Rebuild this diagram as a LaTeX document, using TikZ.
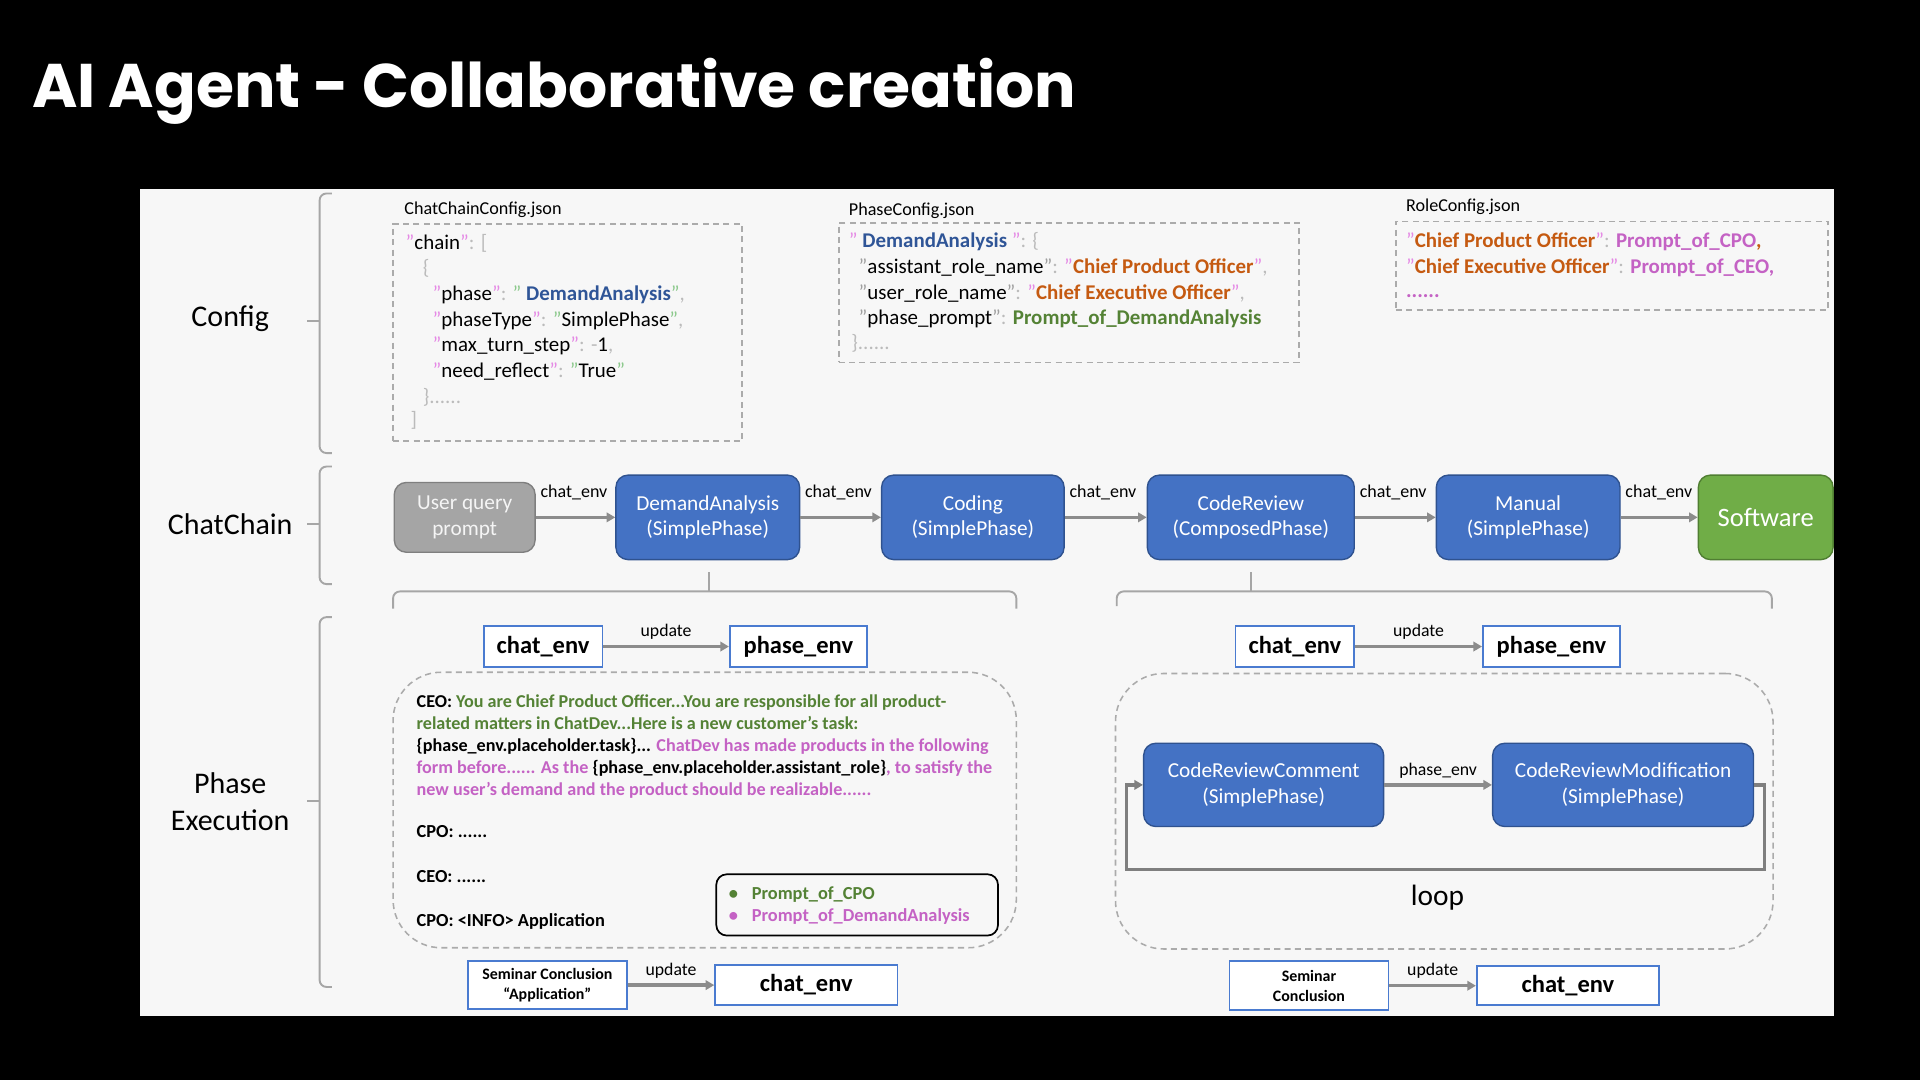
\documentclass[tikz,border=0pt]{standalone}
\usepackage{fontspec}
\setmainfont{Carlito}
\newfontfamily\titlefont{Poppins}
\usetikzlibrary{arrows.meta}
\newcommand\fpx[1]{\fontsize{\fpeval{#1*0.7113}pt}{\fpeval{#1*0.7113*1.2}pt}\selectfont}
\newcommand\fpxb[2]{\fontsize{\fpeval{#1*0.7113}pt}{\fpeval{#2*0.7113}pt}\selectfont}
\def\pu{0.025cm}
\definecolor{panel}{HTML}{F7F7F7}
\definecolor{blueF}{HTML}{4472C4}
\definecolor{blueD}{HTML}{2F528F}
\definecolor{grayF}{HTML}{A5A5A5}
\definecolor{grayD}{HTML}{7F7F7F}
\definecolor{greenF}{HTML}{70AD47}
\definecolor{greenD}{HTML}{507E32}
\definecolor{envB}{HTML}{4A7BD0}
\definecolor{arrG}{HTML}{8C8C8C}
\definecolor{dashG}{HTML}{ABABAB}
\definecolor{braceG}{HTML}{A6A6A6}
\definecolor{pinkq}{HTML}{E58AE5}
\definecolor{greenq}{HTML}{8CC98C}
\definecolor{grayp}{HTML}{BBBBBB}
\definecolor{grayk}{HTML}{A0A0A0}
\definecolor{blueT}{HTML}{2F5597}
\definecolor{orangeT}{HTML}{C55A11}
\definecolor{greenT}{HTML}{548235}
\definecolor{pinkT}{HTML}{C462C4}
\newcommand\qk[1]{\textcolor{pinkq}{"}#1\textcolor{pinkq}{"}}
\newcommand\qg[1]{\textcolor{grayk}{"}#1\textcolor{grayk}{"}}
\newcommand\pc[1]{\textcolor{grayp}{#1}}
\tikzset{
  sz/.style 2 args={minimum width=#1*\pu, minimum height=#2*\pu},
  phasebox/.style={draw=blueD, fill=blueF, rounded corners=7pt, line width=0.8pt, text=white, align=center, font=\fpxb{17.4}{21}, inner sep=0pt},
  envbox/.style={draw=envB, fill=white, line width=1pt, font=\bfseries\fpx{20}, inner sep=0pt},
  arr/.style={draw=arrG, line width=2pt, -{Triangle[length=5pt,width=5.5pt]}},
  chlab/.style={pos=0, anchor=base west, xshift=2.5*\pu, yshift=16*\pu, font=\fpx{14.7}, inner sep=0pt, text=black},
  uplab/.style={midway, anchor=base, yshift=8*\pu, font=\fpx{14.5}, inner sep=0pt, text=black},
  dbox/.style={draw=dashG, line width=0.9pt, dash pattern=on 3.5pt off 2.5pt},
  brace/.style={draw=braceG, line width=1.1pt, rounded corners=4pt},
  js/.style={anchor=mid west, inner sep=0pt, font=\fpx{17.1}},
  fname/.style={anchor=mid west, inner sep=0pt, font=\fpx{14.8}},
  ptext/.style={anchor=mid west, inner sep=0pt, font=\bfseries\fpx{15}},
}
\begin{document}
\begin{tikzpicture}[x=0.025cm,y=-0.025cm]
\fill[black] (0,0) rectangle (1568,882);
\useasboundingbox (0,0) rectangle (1568,882);
\fill[panel] (114,154) rectangle (1498,830);
% title
\node[anchor=base west, inner sep=0pt, text=white, font=\titlefont\bfseries\fpx{50.3}] (title) at (26,88) {AI Agent - Collaborative creation};
% left labels
\node[font=\fpx{24.5}, inner sep=0pt] (lcfg) at (188,260) {Config};
\node[font=\fpx{24.5}, inner sep=0pt] (lcc) at (188,428) {ChatChain};
\node[font=\fpxb{24.5}{30}, align=center, inner sep=0pt] (lpe) at (188,655) {Phase\\Execution};
% braces
\draw[brace] (271,158) -- (261,158) -- (261,370) -- (271,370);
\draw[brace] (261,262) -- (251,262);
\draw[brace] (271,381) -- (261,381) -- (261,477) -- (271,477);
\draw[brace] (261,428) -- (251,428);
\draw[brace] (271,504) -- (261,504) -- (261,806) -- (271,806);
\draw[brace] (261,654) -- (251,654);
\draw[brace] (321,497) -- (321,483) -- (830,483) -- (830,497);
\draw[brace] (579,483) -- (579,467);
\draw[brace] (912,495) -- (912,483) -- (1447,483) -- (1447,497);
\draw[brace] (1022,483) -- (1022,467);
% config boxes
\node[dbox, sz={285}{177}] (ccbox) at (463.5,271.5) {};
\node[fname] (ccname) at (330,172) {ChatChainConfig.json};
\node[js] (c1) at (331,200) {\qk{chain}\pc{: [}};
\node[js] (c2) at (345,221) {\pc{\{}};
\node[js] (c3) at (353,242) {\qk{phase}\pc{:} \textcolor{greenq}{"} \textcolor{blueT}{\bfseries DemandAnalysis}\textcolor{greenq}{"}\pc{,}};
\node[js] (c4) at (353,263) {\qk{phaseType}\pc{:} \textcolor{greenq}{"}SimplePhase\textcolor{greenq}{"}\pc{,}};
\node[js] (c5) at (353,284) {\qk{max\_turn\_step}\pc{: -}1\pc{,}};
\node[js] (c6) at (353,305) {\qk{need\_reflect}\pc{:} \textcolor{greenq}{"}True\textcolor{greenq}{"}};
\node[js] (c7) at (345,326) {\pc{\}......}};
\node[js] (c8) at (335,345) {\pc{]}};
\node[dbox, sz={376}{114}] (pcbox) at (873,239) {};
\node[fname] (pcname) at (693,173) {PhaseConfig.json};
\node[js] (p1) at (693,199) {\textcolor{pinkq}{"} \textcolor{blueT}{\bfseries DemandAnalysis} \textcolor{pinkq}{"}\pc{: \{}};
\node[js] (p2) at (701,220) {\qg{assistant\_role\_name}\pc{:} \textcolor{pinkq}{"}\textcolor{orangeT}{\bfseries Chief Product Officer}\textcolor{pinkq}{"}\pc{,}};
\node[js] (p3) at (701,241) {\qg{user\_role\_name}\pc{:} \textcolor{pinkq}{"}\textcolor{orangeT}{\bfseries Chief Executive Officer}\textcolor{pinkq}{"}\pc{,}};
\node[js] (p4) at (701,262) {\qg{phase\_prompt}\pc{:} \textcolor{greenT}{\bfseries Prompt\_of\_DemandAnalysis}};
\node[js] (p5) at (695,282) {\pc{\}......}};
\node[dbox, sz={353}{72}] (rcbox) at (1316.5,217) {};
\node[fname] (rcname) at (1148,169) {RoleConfig.json};
\node[js] (r1) at (1148,199) {\textcolor{pinkq}{"}\textcolor{orangeT}{\bfseries Chief Product Officer}\textcolor{pinkq}{"}\pc{:} \textcolor{pinkT}{\bfseries Prompt\_of\_CPO}\textcolor{orangeT}{\bfseries ,}};
\node[js] (r2) at (1148,220) {\textcolor{pinkq}{"}\textcolor{orangeT}{\bfseries Chief Executive Officer}\textcolor{pinkq}{"}\pc{:} \textcolor{pinkT}{\bfseries Prompt\_of\_CEO,}};
\node[js] (r3) at (1148,240) {\textcolor{pinkT}{\bfseries ......}};
% chat chain
\node[phasebox, draw=grayD, fill=grayF, text=white!92!gray, sz={115}{57}] (uq) at (379.5,422.5) {User query\\prompt};
\node[phasebox, sz={150}{69}] (da) at (578,422.5) {DemandAnalysis\\(SimplePhase)};
\node[phasebox, sz={149}{69}] (cod) at (794.5,422.5) {Coding\\(SimplePhase)};
\node[phasebox, sz={169}{69}] (cr) at (1021.5,422.5) {CodeReview\\(ComposedPhase)};
\node[phasebox, sz={150}{69}] (man) at (1248,422.5) {Manual\\(SimplePhase)};
\node[phasebox, draw=greenD, fill=greenF, font=\fpx{21.7}, sz={110}{69}] (sw) at (1442,422.5) {Software};
\draw[arr] (uq) -- node[chlab] {chat\_env} (da);
\draw[arr] (da) -- node[chlab] {chat\_env} (cod);
\draw[arr] (cod) -- node[chlab] {chat\_env} (cr);
\draw[arr] (cr) -- node[chlab] {chat\_env} (man);
\draw[arr] (man) -- node[chlab] {chat\_env} (sw);
% left phase execution
\node[envbox, sz={97}{34}] (ce1) at (443.5,528) {chat\_env};
\node[envbox, sz={112}{34}] (pe1) at (652,528) {phase\_env};
\draw[arr] (ce1) -- node[uplab] {update} (pe1);
\node[dbox, rounded corners=28pt, sz={509}{225}] (lbox) at (575.5,661.5) {};
\node[anchor=north west, inner sep=0pt, align=left, font=\bfseries\fpxb{14.8}{18}] (ceo) at (340,567) {CEO: \textcolor{greenT}{You are Chief Product Officer...You are responsible for all product-}\\
\textcolor{greenT}{related matters in ChatDev...Here is a new customer's task:}\\
\{phase\_env.placeholder.task\}... \textcolor{pinkT}{ChatDev has made products in the following}\\
\textcolor{pinkT}{form before...... As the} \{phase\_env.placeholder.assistant\_role\}\textcolor{pinkT}{, to satisfy the}\\
\textcolor{pinkT}{new user's demand and the product should be realizable......}};
\node[ptext] (cpo1) at (340,681) {CPO: ......};
\node[ptext] (ceo2) at (340,717) {CEO: ......};
\node[ptext] (cpo2) at (340,753) {CPO: <INFO> Application};
\node[draw=black, line width=1pt, rounded corners=6pt, sz={230}{50}] (pbox) at (700,739) {};
\node[ptext, text=greenT] (b1) at (595,731) {\textbullet\hspace{8pt}Prompt\_of\_CPO};
\node[ptext, text=pinkT] (b2) at (595,749) {\textbullet\hspace{8pt}Prompt\_of\_DemandAnalysis};
\node[envbox, font=\bfseries\fpxb{13}{16}, align=center, sz={130}{39}] (sc1) at (447,804.5) {Seminar Conclusion\\“Application”};
\node[envbox, sz={149}{33}] (ce3) at (658.5,804.5) {chat\_env};
\draw[arr] (sc1) -- node[uplab] {update} (ce3);
% right phase execution
\node[envbox, sz={97}{34}] (ce2) at (1057.5,528) {chat\_env};
\node[envbox, sz={112}{34}] (pe2) at (1267,528) {phase\_env};
\draw[arr] (ce2) -- node[uplab] {update} (pe2);
\node[dbox, rounded corners=28pt, sz={537}{225}] (rbox) at (1179.5,662.5) {};
\node[phasebox, sz={196}{68}] (crc) at (1032,641) {CodeReviewComment\\(SimplePhase)};
\node[phasebox, sz={213}{68}] (crm) at (1325.5,641) {CodeReviewModification\\(SimplePhase)};
\draw[arr] (crc) -- node[uplab] {phase\_env} (crm);
\coordinate (lp1) at (1441,710);
\coordinate (lp2) at (920,710);
\draw[arr, draw=grayD] (crm.east) -| (lp1) -- (lp2) |- (crc.west);
\node[font=\fpx{24}, inner sep=0pt] (loop) at (1174,733) {loop};
\node[envbox, font=\bfseries\fpxb{13}{16}, align=center, sz={130}{40}] (sc2) at (1069,805) {Seminar\\Conclusion};
\node[envbox, sz={149}{32}] (ce4) at (1280.5,805) {chat\_env};
\draw[arr] (sc2) -- node[uplab] {update} (ce4);
\end{tikzpicture}
\end{document}
